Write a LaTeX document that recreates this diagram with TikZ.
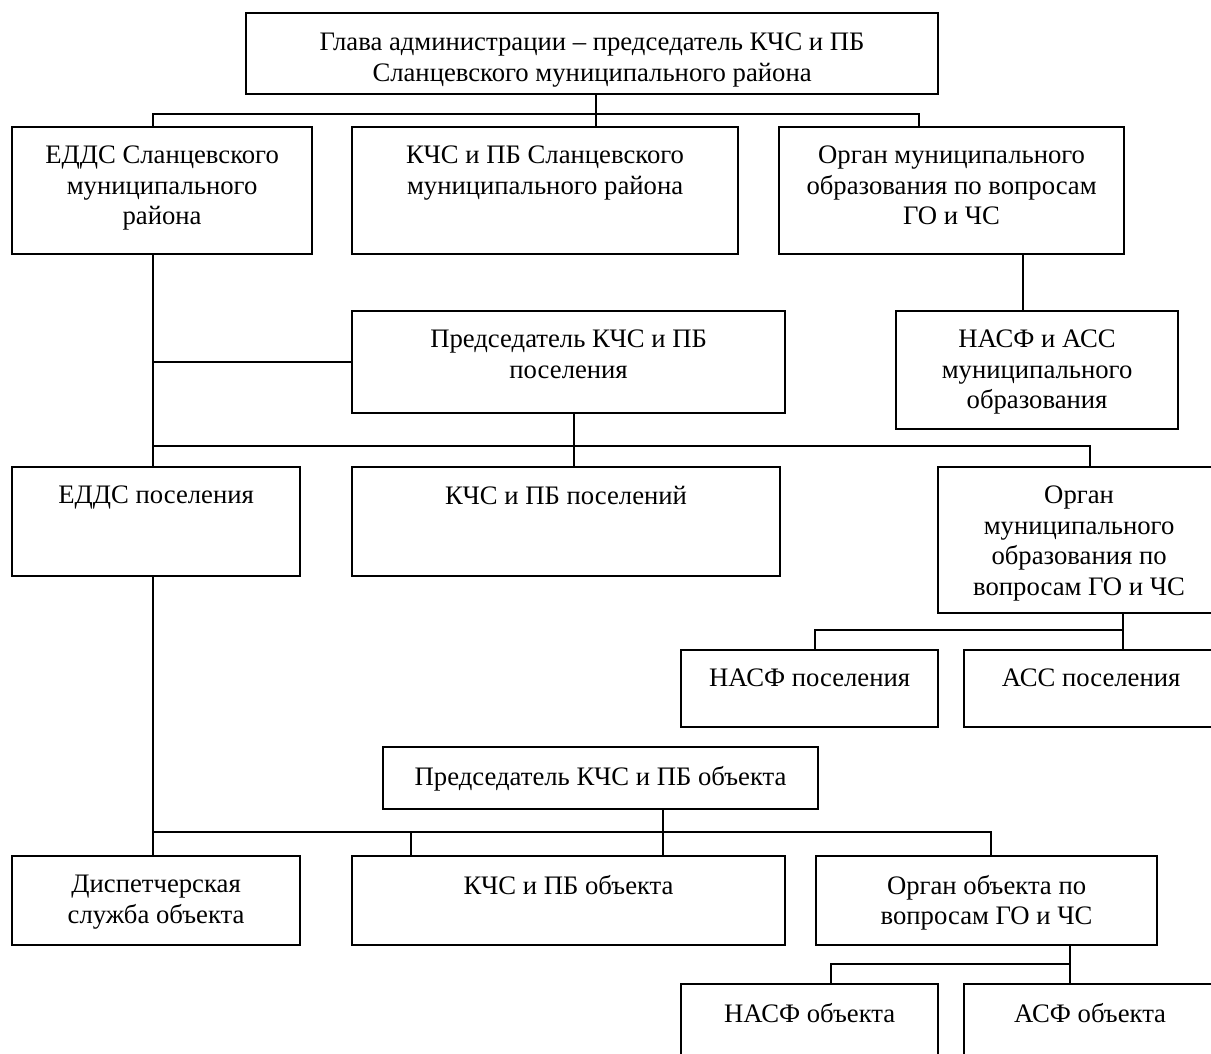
\documentclass[tikz,border=0pt]{standalone}
\usepackage{fontspec}
\setmainfont{Liberation Serif}
\usepackage{tikz}
\usetikzlibrary{positioning}

\begin{document}
\begin{tikzpicture}[x=1pt,y=-1pt]

\tikzstyle{box}=[draw=black,line width=2.2pt,inner sep=0pt,anchor=north west]
\tikzstyle{txt}=[align=center,inner sep=0pt,font=\fontsize{26.7}{30.5}\selectfont]
\tikzstyle{line}=[draw=black,line width=1.8pt]

\clip (0,0) rectangle (1211,1054);

% top level
\node [box,minimum width=692pt,minimum height=81pt] (glava) at (245,12) {};
\node [txt,below=21pt of glava.north] (glava-t) {Глава администрации – председатель КЧС и ПБ\\Сланцевского муниципального района};

\node [box,minimum width=300pt,minimum height=127pt] (edds) at (11,126) {};
\node [txt,below=20pt of edds.north] (edds-t) {ЕДДС Сланцевского\\муниципального\\района};
\node [box,minimum width=386pt,minimum height=127pt] (kchs) at (351,126) {};
\node [txt,below=20pt of kchs.north] (kchs-t) {КЧС и ПБ Сланцевского\\муниципального района};
\node [box,minimum width=345pt,minimum height=127pt] (organ) at (778,126) {};
\node [txt,below=20pt of organ.north] (organ-t) {Орган муниципального\\образования по вопросам\\ГО и ЧС};

\node [box,minimum width=433pt,minimum height=102pt] (predpos) at (351,310) {};
\node [txt,below=20pt of predpos.north] (predpos-t) {Председатель КЧС и ПБ\\поселения};
\node [box,minimum width=282pt,minimum height=118pt] (nasfacc) at (895,310) {};
\node [txt,below=20pt of nasfacc.north] (nasfacc-t) {НАСФ и АСС\\муниципального\\образования};

% settlement level
\node [box,minimum width=288pt,minimum height=109pt] (eddspos) at (11,466) {};
\node [txt,below=20pt of eddspos.north] (eddspos-t) {ЕДДС поселения};
\node [box,minimum width=428pt,minimum height=109pt] (kchspos) at (351,466) {};
\node [txt,below=20pt of kchspos.north] (kchspos-t) {КЧС и ПБ поселений};
\node [box,minimum width=288pt,minimum height=146pt] (organpos) at (937,466) {};
\node [txt,below=20pt of organpos.north,xshift=-3pt] (organpos-t) {Орган\\муниципального\\образования по\\вопросам ГО и ЧС};

\node [box,minimum width=257pt,minimum height=77pt] (nasfpos) at (680,649) {};
\node [txt,below=20pt of nasfpos.north] (nasfpos-t) {НАСФ поселения};
\node [box,minimum width=262pt,minimum height=77pt] (accpos) at (963,649) {};
\node [txt,below=20pt of accpos.north,xshift=-4pt] (accpos-t) {АСС поселения};

% object level
\node [box,minimum width=435pt,minimum height=62pt] (predobj) at (382,746) {};
\node [txt,below=20pt of predobj.north] (predobj-t) {Председатель КЧС и ПБ объекта};

\node [box,minimum width=288pt,minimum height=89pt] (disp) at (11,855) {};
\node [txt,below=20pt of disp.north] (disp-t) {Диспетчерская\\служба объекта};
\node [box,minimum width=433pt,minimum height=89pt] (kchsobj) at (351,855) {};
\node [txt,below=20pt of kchsobj.north] (kchsobj-t) {КЧС и ПБ объекта};
\node [box,minimum width=341pt,minimum height=89pt] (organobj) at (815,855) {};
\node [txt,below=20pt of organobj.north] (organobj-t) {Орган объекта по\\вопросам ГО и ЧС};

\node [box,minimum width=257pt,minimum height=90pt] (nasfobj) at (680,983) {};
\node [txt,below=20pt of nasfobj.north] (nasfobj-t) {НАСФ объекта};
\node [box,minimum width=262pt,minimum height=90pt] (asfobj) at (963,983) {};
\node [txt,below=20pt of asfobj.north,xshift=-5pt] (asfobj-t) {АСФ объекта};

% junctions
\coordinate (sp) at (153,0);
\coordinate (t1) at (596,114);
\coordinate (t2) at (919,114);
\coordinate (t3) at (574,446);
\coordinate (t4) at (1090,446);
\coordinate (t5) at (1023,0);
\coordinate (t6) at (1123,630);
\coordinate (t7) at (815,630);
\coordinate (t8) at (663,832);
\coordinate (t9) at (411,832);
\coordinate (t10) at (991,832);
\coordinate (t11) at (1070,964);
\coordinate (t12) at (831,964);

\draw [line] (glava.south -| t1) -- (kchs.north -| t1);
\draw [line] (edds.north -| sp) |- (t2) -- (organ.north -| t2);
\draw [line] (organ.south -| t5) -- (nasfacc.north -| t5);

\draw [line] (edds.south -| sp) -- (eddspos.north -| sp);
\draw [line] (predpos.west) -- (predpos.west -| sp);
\draw [line] (predpos.south -| t3) -- (kchspos.north -| t3);
\draw [line] (sp |- t3) -- (t4) -- (organpos.north -| t4);

\draw [line] (organpos.south -| t6) -- (accpos.north -| t6);
\draw [line] (t6) -- (t7) -- (nasfpos.north -| t7);

\draw [line] (eddspos.south -| sp) -- (disp.north -| sp);
\draw [line] (predobj.south -| t8) -- (kchsobj.north -| t8);
\draw [line] (sp |- t8) -- (t10) -- (organobj.north -| t10);
\draw [line] (t9) -- (kchsobj.north -| t9);

\draw [line] (organobj.south -| t11) -- (asfobj.north -| t11);
\draw [line] (t11) -- (t12) -- (nasfobj.north -| t12);

\end{tikzpicture}
\end{document}
